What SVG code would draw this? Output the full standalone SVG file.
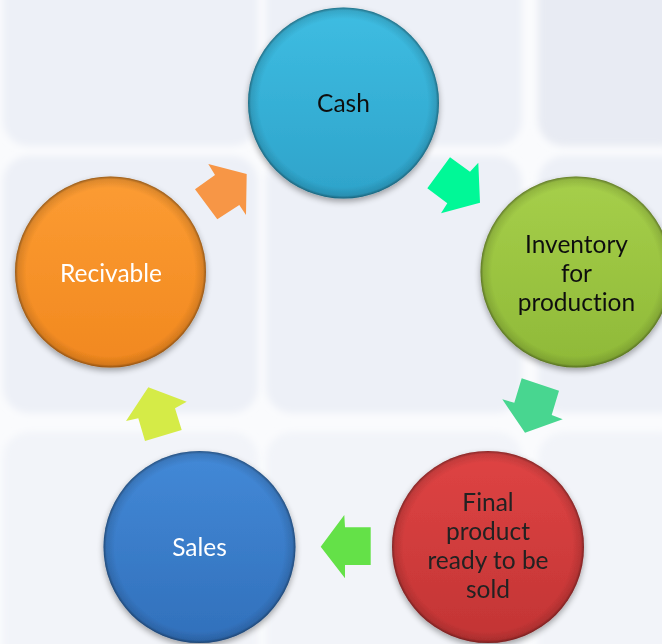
<svg xmlns="http://www.w3.org/2000/svg" width="662" height="644" viewBox="0 0 662 644">
  <defs>
    <style>
      .tile { fill: #edf0f7; filter: url(#soft); }
      .lbl { font-family: Lato, "Open Sans", "Liberation Sans", sans-serif; font-size: 24.5px; text-anchor: middle; font-variant-ligatures: none; }
      .dark { fill: #111; }
      .light { fill: #ffffff; }
      .rim { fill: url(#rim); }
      .ball { filter: url(#shadow); }
    </style>
    <filter id="soft" x="-10%" y="-10%" width="120%" height="120%">
      <feGaussianBlur stdDeviation="3.5"/>
    </filter>
    <filter id="shadow" x="-20%" y="-20%" width="140%" height="140%">
      <feGaussianBlur in="SourceAlpha" stdDeviation="3"/>
      <feOffset dx="0" dy="3" result="b"/>
      <feComponentTransfer><feFuncA type="linear" slope="0.35"/></feComponentTransfer>
      <feMerge><feMergeNode/><feMergeNode in="SourceGraphic"/></feMerge>
    </filter>
    <radialGradient id="rim" cx="0.5" cy="0.5" r="0.5">
      <stop offset="0.88" stop-color="#000" stop-opacity="0"/>
      <stop offset="0.97" stop-color="#000" stop-opacity="0.12"/>
      <stop offset="1" stop-color="#000" stop-opacity="0.4"/>
    </radialGradient>
    <linearGradient id="gCash" x1="0" y1="0" x2="0" y2="1">
      <stop offset="0" stop-color="#3ebde2"/>
      <stop offset="1" stop-color="#2ea3ca"/>
    </linearGradient>
    <linearGradient id="gInv" x1="0" y1="0" x2="0" y2="1">
      <stop offset="0" stop-color="#a6cf4a"/>
      <stop offset="1" stop-color="#8fb938"/>
    </linearGradient>
    <linearGradient id="gFinal" x1="0" y1="0" x2="0" y2="1">
      <stop offset="0" stop-color="#df4444"/>
      <stop offset="1" stop-color="#c23434"/>
    </linearGradient>
    <linearGradient id="gSales" x1="0" y1="0" x2="0" y2="1">
      <stop offset="0" stop-color="#4389d7"/>
      <stop offset="1" stop-color="#3170bb"/>
    </linearGradient>
    <linearGradient id="gRec" x1="0" y1="0" x2="0" y2="1">
      <stop offset="0" stop-color="#fc9c33"/>
      <stop offset="1" stop-color="#f1881f"/>
    </linearGradient>
  </defs>

  <!-- backdrop grid of soft tiles -->
  <rect width="662" height="644" fill="#fafbfd"/>
  <g id="backdrop">
    <rect class="tile" x="3" y="-30" width="255" height="176" rx="26"/>
    <rect class="tile" x="266" y="-30" width="256" height="176" rx="26"/>
    <rect class="tile" x="538" y="-30" width="150" height="176" rx="26" style="fill:#e8ebf3"/>
    <rect class="tile" x="3" y="156" width="255" height="257" rx="26"/>
    <rect class="tile" x="266" y="156" width="256" height="257" rx="26"/>
    <rect class="tile" x="538" y="156" width="150" height="257" rx="26"/>
    <rect class="tile" x="3" y="432" width="255" height="250" rx="26" style="fill:#f2f4f9"/>
    <rect class="tile" x="266" y="432" width="256" height="250" rx="26" style="fill:#f2f4f9"/>
    <rect class="tile" x="538" y="432" width="150" height="250" rx="26" style="fill:#f2f4f9"/>
  </g>

  <!-- cycle arrows -->
  <g id="connectors">
    <polygon fill="#f79646" points="208.3,164 215,175 195,189.3 217.3,219.3 239.3,205 246,215 246.7,174"/>
    <polygon fill="#00f897" points="450,157.3 470,171.7 478.3,162.7 480,202.7 441,213.3 447.3,203.3 427.3,188.3"/>
    <polygon fill="#48d690" points="521.7,378.3 559,390.7 551.7,415 562.7,419.3 525,432.7 502.3,399.3 514.3,402.7"/>
    <polygon fill="#64e148" points="344.3,515 345,527.3 370.7,527.3 370.7,565 345,565 345,578.3 320.7,546.7"/>
    <polygon fill="#d5eb47" points="148.3,387.3 186.7,401.7 175,408.3 181.7,430 145,441 138.3,418.3 126,421"/>
  </g>

  <g id="cash" class="ball">
    <circle cx="343.5" cy="103" r="95.5" fill="url(#gCash)"/>
    <circle class="rim" cx="343.5" cy="103" r="95.5"/>
    <text class="lbl dark" x="343.5" y="111.5">Cash</text>
  </g>

  <g id="inventory" class="ball">
    <circle cx="576" cy="272" r="95.5" fill="url(#gInv)"/>
    <circle class="rim" cx="576" cy="272" r="95.5"/>
    <text class="lbl dark" x="576.5" y="253">Inventory</text>
    <text class="lbl dark" x="576.5" y="282">for</text>
    <text class="lbl dark" x="576.5" y="311">production</text>
  </g>

  <g id="final-product" class="ball">
    <circle cx="488" cy="547" r="96" fill="url(#gFinal)"/>
    <circle class="rim" cx="488" cy="547" r="96"/>
    <text class="lbl" fill="#222" x="488" y="511">Final</text>
    <text class="lbl" fill="#222" x="488" y="540">product</text>
    <text class="lbl" fill="#222" x="488" y="569">ready to be</text>
    <text class="lbl" fill="#222" x="488" y="598">sold</text>
  </g>

  <g id="sales" class="ball">
    <circle cx="199.5" cy="547" r="96" fill="url(#gSales)"/>
    <circle class="rim" cx="199.5" cy="547" r="96"/>
    <text class="lbl light" x="199.5" y="556">Sales</text>
  </g>

  <g id="recivable" class="ball">
    <circle cx="110.5" cy="272" r="95.5" fill="url(#gRec)"/>
    <circle class="rim" cx="110.5" cy="272" r="95.5"/>
    <text class="lbl light" x="111" y="281.5">Recivable</text>
  </g>
</svg>
